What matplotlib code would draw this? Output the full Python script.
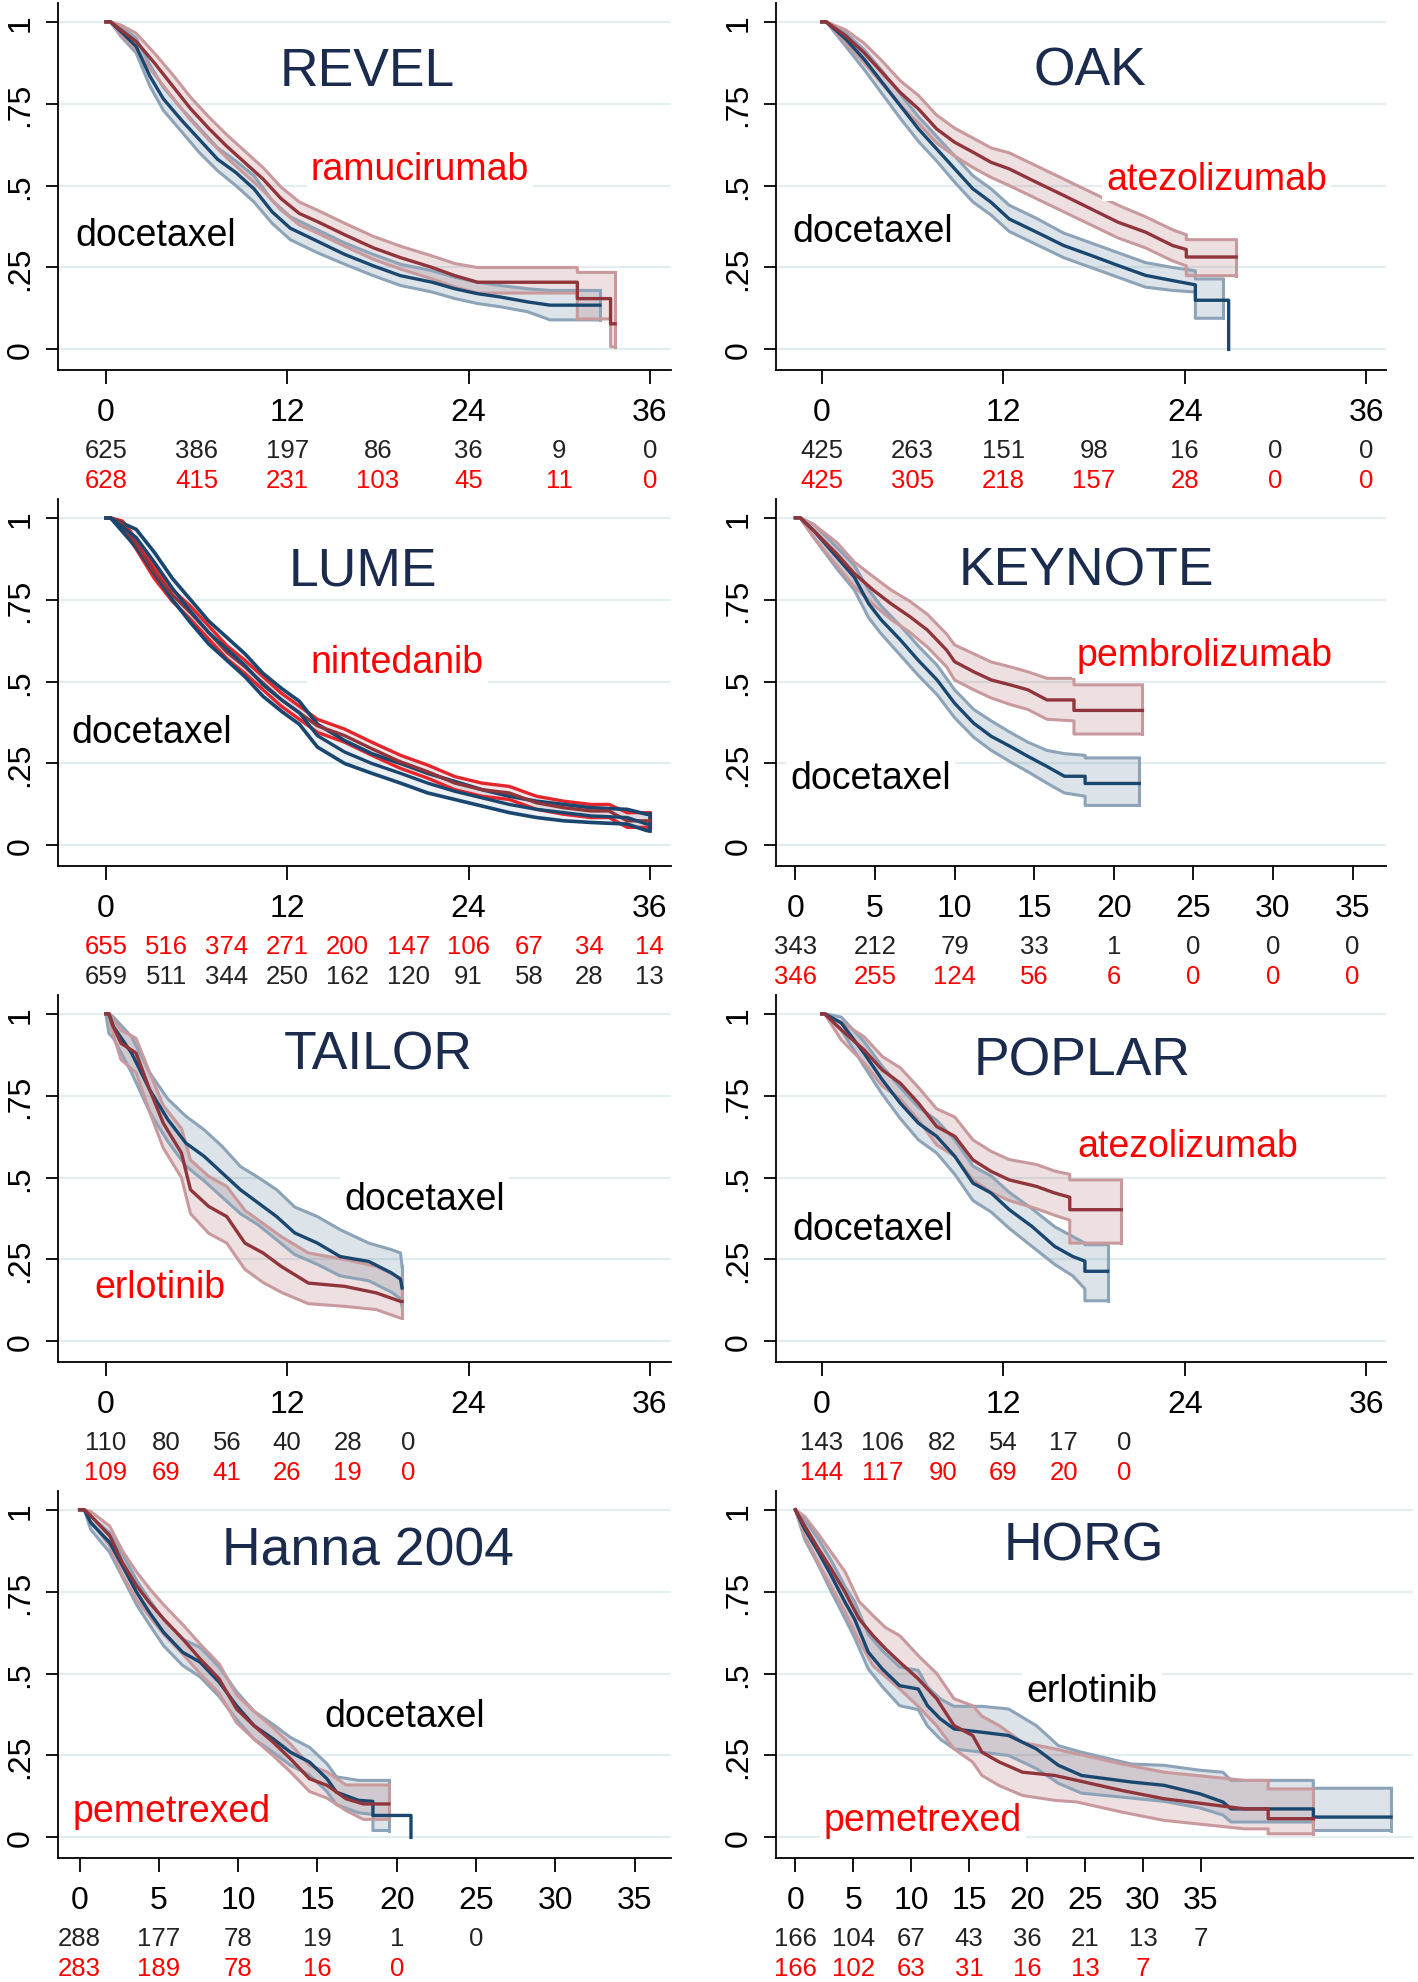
import numpy as np
import matplotlib
matplotlib.use('Agg')
import matplotlib.pyplot as plt

plt.rcParams['font.family'] = ['Liberation Sans', 'DejaVu Sans']

# ---------------- data ----------------
# each arm: time points along the curve, survival, lower and upper CI
# (None = no CI at that time)

# REVEL
rev_doc_t = [0, 0.3, 1, 2, 2.9, 3.8, 5.0, 6.2, 7.4, 8.6, 9.8, 11.0, 12.2, 14.0, 15.8, 17.7, 19.5, 21.6, 23.1, 24.6, 26.1, 27.9, 29.4, 32.7]
rev_doc_s = [1, 1, 0.97, 0.925, 0.835, 0.765, 0.70, 0.64, 0.58, 0.54, 0.49, 0.42, 0.37, 0.33, 0.29, 0.255, 0.225, 0.205, 0.185, 0.17, 0.16, 0.145, 0.135, 0.135]
rev_doc_lo = [1, 1, 0.955, 0.905, 0.805, 0.73, 0.665, 0.60, 0.545, 0.50, 0.45, 0.385, 0.335, 0.295, 0.26, 0.225, 0.195, 0.175, 0.155, 0.14, 0.13, 0.115, 0.09, 0.09]
rev_doc_hi = [1, 1, 0.985, 0.95, 0.87, 0.80, 0.735, 0.675, 0.615, 0.575, 0.53, 0.455, 0.405, 0.365, 0.325, 0.29, 0.26, 0.24, 0.22, 0.205, 0.195, 0.185, 0.18, 0.18]
rev_ram_t = [0, 0.3, 1, 2, 3.2, 4.4, 5.6, 6.8, 8.0, 9.2, 10.4, 11.6, 12.8, 14.0, 15.8, 17.7, 19.5, 21.6, 23.1, 24.6, 31.2, 31.2, 33.4, 33.4, 33.7]
rev_ram_s = [1, 1, 0.975, 0.94, 0.875, 0.805, 0.735, 0.675, 0.62, 0.57, 0.52, 0.46, 0.415, 0.39, 0.35, 0.31, 0.28, 0.25, 0.225, 0.205, 0.205, 0.155, 0.155, 0.078, 0.078]
rev_ram_lo = [1, 1, 0.96, 0.915, 0.84, 0.77, 0.70, 0.64, 0.585, 0.535, 0.485, 0.425, 0.38, 0.355, 0.315, 0.275, 0.245, 0.215, 0.19, 0.172, 0.172, 0.093, 0.093, 0.008, 0.008]
rev_ram_hi = [1, 1, 0.99, 0.965, 0.905, 0.84, 0.77, 0.71, 0.655, 0.605, 0.555, 0.495, 0.45, 0.425, 0.385, 0.345, 0.315, 0.285, 0.262, 0.25, 0.25, 0.235, 0.235, 0.235, 0.235]
rev_risk_x = [0, 6, 12, 18, 24, 30, 36]
rev_risk_doc = [625, 386, 197, 86, 36, 9, 0]
rev_risk_ram = [628, 415, 231, 103, 45, 11, 0]

# OAK
oak_doc_t = [0, 0.3, 1.6, 2.8, 4.0, 5.2, 6.4, 7.6, 8.8, 10.0, 11.2, 12.4, 14.2, 16.0, 17.8, 19.6, 21.4, 23.2, 24.7, 24.7, 26.5, 26.9, 26.9]
oak_doc_s = [1, 1, 0.947, 0.886, 0.815, 0.744, 0.673, 0.612, 0.551, 0.49, 0.449, 0.398, 0.358, 0.317, 0.287, 0.256, 0.226, 0.21, 0.197, 0.15, 0.15, 0.15, 0.0]
oak_doc_lo = [1, 1, 0.925, 0.855, 0.78, 0.705, 0.635, 0.575, 0.51, 0.45, 0.41, 0.36, 0.32, 0.28, 0.25, 0.22, 0.19, 0.18, 0.175, 0.095, 0.095, None, None]
oak_doc_hi = [1, 1, 0.965, 0.915, 0.85, 0.78, 0.71, 0.65, 0.59, 0.53, 0.49, 0.44, 0.40, 0.355, 0.325, 0.295, 0.265, 0.25, 0.24, 0.215, 0.215, None, None]
oak_ate_t = [0, 0.3, 1.6, 2.8, 4.0, 5.2, 6.4, 7.6, 8.8, 10.0, 11.2, 12.4, 14.2, 16.0, 17.8, 19.6, 21.4, 23.2, 24.1, 24.1, 27.4]
oak_ate_s = [1, 1, 0.957, 0.906, 0.845, 0.784, 0.734, 0.673, 0.632, 0.602, 0.571, 0.551, 0.51, 0.47, 0.429, 0.388, 0.358, 0.317, 0.305, 0.282, 0.282]
oak_ate_lo = [1, 1, 0.935, 0.875, 0.81, 0.745, 0.69, 0.63, 0.59, 0.555, 0.525, 0.50, 0.46, 0.42, 0.38, 0.34, 0.31, 0.27, 0.255, 0.225, 0.225]
oak_ate_hi = [1, 1, 0.975, 0.935, 0.88, 0.82, 0.775, 0.715, 0.675, 0.645, 0.615, 0.60, 0.56, 0.52, 0.48, 0.44, 0.405, 0.365, 0.35, 0.335, 0.335]
oak_risk_x = [0, 6, 12, 18, 24, 30, 36]
oak_risk_doc = [425, 263, 151, 98, 16, 0, 0]
oak_risk_ate = [425, 305, 218, 157, 28, 0, 0]

# LUME
lum_nin_t = [0, 0.3, 1.1, 2.0, 3.2, 4.4, 5.6, 6.8, 8.0, 9.2, 10.4, 11.6, 12.8, 14.0, 15.8, 17.6, 19.5, 21.3, 23.1, 24.9, 26.7, 28.5, 30.3, 32.1, 33.3, 34.5, 36.0]
lum_nin_s = [1, 1, 0.98, 0.92, 0.835, 0.765, 0.71, 0.65, 0.59, 0.545, 0.495, 0.445, 0.405, 0.365, 0.335, 0.295, 0.255, 0.225, 0.19, 0.17, 0.16, 0.13, 0.115, 0.105, 0.105, 0.075, 0.075]
lum_nin_lo = [1, 1, 0.97, 0.905, 0.815, 0.745, 0.69, 0.63, 0.57, 0.525, 0.475, 0.425, 0.385, 0.345, 0.315, 0.275, 0.235, 0.205, 0.17, 0.15, 0.14, 0.11, 0.095, 0.085, 0.085, 0.055, 0.055]
lum_nin_hi = [1, 1, 0.99, 0.935, 0.85, 0.78, 0.73, 0.67, 0.61, 0.565, 0.515, 0.465, 0.425, 0.385, 0.355, 0.315, 0.275, 0.245, 0.21, 0.19, 0.18, 0.15, 0.135, 0.125, 0.125, 0.10, 0.10]
lum_doc_t = [0, 0.3, 2.0, 3.2, 4.4, 5.6, 6.8, 8.0, 9.2, 10.4, 11.6, 12.8, 14.0, 15.8, 17.6, 19.5, 21.3, 23.1, 24.9, 26.7, 28.5, 30.3, 32.1, 34.5, 35.8, 36.0]
lum_doc_s = [1, 1, 0.94, 0.865, 0.785, 0.715, 0.65, 0.60, 0.55, 0.49, 0.445, 0.405, 0.335, 0.285, 0.25, 0.22, 0.19, 0.165, 0.145, 0.125, 0.11, 0.10, 0.09, 0.085, 0.065, 0.065]
lum_doc_lo = [1, 1, 0.91, 0.83, 0.75, 0.68, 0.615, 0.565, 0.515, 0.455, 0.41, 0.37, 0.30, 0.25, 0.22, 0.19, 0.16, 0.14, 0.12, 0.10, 0.085, 0.075, 0.07, 0.065, 0.045, 0.045]
lum_doc_hi = [1, 1, 0.965, 0.895, 0.815, 0.75, 0.685, 0.635, 0.585, 0.525, 0.48, 0.44, 0.37, 0.32, 0.28, 0.25, 0.22, 0.195, 0.17, 0.15, 0.135, 0.125, 0.115, 0.11, 0.095, 0.095]
lum_risk_x = [0, 4, 8, 12, 16, 20, 24, 28, 32, 36]
lum_risk_nin = [655, 516, 374, 271, 200, 147, 106, 67, 34, 14]
lum_risk_doc = [659, 511, 344, 250, 162, 120, 91, 58, 28, 13]

# KEYNOTE
key_doc_t = [0, 0.3, 1.15, 2.6, 3.7, 4.6, 5.4, 6.6, 7.7, 8.9, 10.0, 11.2, 12.3, 13.5, 14.6, 15.8, 16.9, 18.2, 18.2, 21.6]
key_doc_s = [1, 1, 0.961, 0.88, 0.819, 0.738, 0.688, 0.627, 0.566, 0.505, 0.434, 0.373, 0.333, 0.302, 0.272, 0.241, 0.211, 0.211, 0.189, 0.189]
key_doc_lo = [1, 1, 0.94, 0.845, 0.78, 0.695, 0.645, 0.58, 0.52, 0.46, 0.39, 0.33, 0.29, 0.255, 0.225, 0.19, 0.16, 0.15, 0.122, 0.122]
key_doc_hi = [1, 1, 0.98, 0.91, 0.855, 0.78, 0.73, 0.67, 0.61, 0.55, 0.475, 0.415, 0.38, 0.345, 0.315, 0.29, 0.28, 0.275, 0.267, 0.267]
key_pem_t = [0, 0.3, 1.15, 2.6, 3.7, 4.9, 6.0, 7.2, 8.3, 9.5, 10.0, 11.2, 12.3, 13.5, 14.6, 15.8, 17.5, 17.5, 21.8]
key_pem_s = [1, 1, 0.961, 0.89, 0.83, 0.779, 0.738, 0.698, 0.657, 0.596, 0.561, 0.53, 0.505, 0.49, 0.475, 0.444, 0.444, 0.412, 0.412]
key_pem_lo = [1, 1, 0.94, 0.855, 0.79, 0.735, 0.69, 0.65, 0.605, 0.545, 0.505, 0.475, 0.45, 0.43, 0.415, 0.385, 0.38, 0.34, 0.34]
key_pem_hi = [1, 1, 0.98, 0.925, 0.865, 0.82, 0.78, 0.745, 0.705, 0.645, 0.612, 0.585, 0.56, 0.545, 0.53, 0.51, 0.51, 0.49, 0.49]
key_risk_x = [0, 5, 10, 15, 20, 25, 30, 35]
key_risk_doc = [343, 212, 79, 33, 1, 0, 0, 0]
key_risk_pem = [346, 255, 124, 56, 6, 0, 0, 0]

# TAILOR
tai_doc_t = [0, 0.2, 0.5, 1.7, 2.9, 4.1, 5.3, 6.5, 7.7, 8.9, 10.1, 11.3, 12.5, 14.0, 15.5, 17.4, 18.9, 19.5, 19.6]
tai_doc_s = [1, 1, 0.961, 0.88, 0.768, 0.677, 0.605, 0.565, 0.514, 0.463, 0.422, 0.381, 0.331, 0.30, 0.259, 0.244, 0.209, 0.19, 0.163]
tai_doc_lo = [1, 0.94, 0.925, 0.82, 0.70, 0.61, 0.535, 0.49, 0.44, 0.39, 0.355, 0.31, 0.265, 0.235, 0.20, 0.185, 0.15, 0.13, 0.105]
tai_doc_hi = [1, 1, 0.99, 0.93, 0.82, 0.74, 0.687, 0.646, 0.595, 0.534, 0.50, 0.463, 0.41, 0.381, 0.341, 0.30, 0.28, 0.27, 0.229]
tai_erl_t = [0, 0.2, 0.4, 1.0, 2.0, 2.9, 3.8, 5.0, 5.6, 6.8, 8.0, 9.2, 10.4, 11.6, 13.4, 15.8, 17.9, 19.5, 19.6]
tai_erl_s = [1, 1, 0.97, 0.91, 0.88, 0.768, 0.666, 0.575, 0.463, 0.412, 0.381, 0.30, 0.27, 0.229, 0.178, 0.168, 0.148, 0.122, 0.122]
tai_erl_lo = [1, 1, 0.95, 0.86, 0.82, 0.70, 0.59, 0.50, 0.39, 0.33, 0.30, 0.22, 0.18, 0.15, 0.115, 0.107, 0.097, 0.071, 0.071]
tai_erl_hi = [1, 1, 0.99, 0.95, 0.925, 0.82, 0.72, 0.65, 0.554, 0.504, 0.473, 0.40, 0.36, 0.32, 0.27, 0.25, 0.229, 0.193, 0.193]
tai_risk_x = [0, 4, 8, 12, 16, 20]
tai_risk_doc = [110, 80, 56, 40, 28, 0]
tai_risk_erl = [109, 69, 41, 26, 19, 0]

# POPLAR
pop_doc_t = [0, 0.2, 1.3, 2.8, 4.0, 5.2, 6.4, 7.6, 8.8, 10.0, 11.2, 12.4, 13.9, 15.4, 16.6, 17.4, 17.4, 18.9]
pop_doc_s = [1, 1, 0.972, 0.88, 0.799, 0.727, 0.666, 0.626, 0.565, 0.483, 0.453, 0.402, 0.351, 0.29, 0.259, 0.245, 0.214, 0.214]
pop_doc_lo = [1, 1, 0.95, 0.84, 0.755, 0.68, 0.615, 0.575, 0.51, 0.43, 0.395, 0.345, 0.29, 0.235, 0.20, 0.16, 0.124, 0.124]
pop_doc_hi = [1, 1, 0.99, 0.915, 0.84, 0.775, 0.715, 0.675, 0.615, 0.535, 0.505, 0.455, 0.405, 0.35, 0.32, 0.30, 0.295, 0.295]
pop_ate_t = [0, 0.2, 1.3, 2.8, 4.0, 5.2, 6.4, 7.6, 8.8, 10.0, 11.2, 12.4, 14.2, 15.4, 16.4, 16.4, 19.8]
pop_ate_s = [1, 1, 0.951, 0.89, 0.829, 0.788, 0.727, 0.656, 0.626, 0.554, 0.519, 0.493, 0.473, 0.453, 0.44, 0.402, 0.402]
pop_ate_lo = [1, 1, 0.92, 0.85, 0.78, 0.74, 0.675, 0.60, 0.565, 0.493, 0.455, 0.43, 0.405, 0.385, 0.37, 0.30, 0.30]
pop_ate_hi = [1, 1, 0.975, 0.93, 0.87, 0.835, 0.775, 0.71, 0.685, 0.615, 0.58, 0.555, 0.54, 0.52, 0.51, 0.493, 0.493]
pop_risk_x = [0, 4, 8, 12, 16, 20]
pop_risk_doc = [143, 106, 82, 54, 17, 0]
pop_risk_ate = [144, 117, 90, 69, 20, 0]

# Hanna 2004
han_doc_t = [0, 0.3, 0.7, 1.9, 2.7, 3.6, 4.4, 5.3, 6.5, 7.6, 8.8, 9.9, 11.0, 12.2, 13.3, 14.5, 15.6, 16.2, 17.6, 18.5, 18.5, 19.5, 20.9, 20.9]
han_doc_s = [1, 1, 0.961, 0.90, 0.829, 0.748, 0.687, 0.626, 0.565, 0.535, 0.474, 0.402, 0.341, 0.301, 0.26, 0.23, 0.179, 0.138, 0.113, 0.11, 0.067, 0.067, 0.067, 0.0]
han_doc_lo = [1, 1, 0.94, 0.87, 0.795, 0.71, 0.65, 0.585, 0.525, 0.49, 0.43, 0.36, 0.30, 0.26, 0.22, 0.19, 0.14, 0.10, 0.075, 0.07, 0.021, 0.021, None, None]
han_doc_hi = [1, 1, 0.98, 0.93, 0.865, 0.785, 0.725, 0.665, 0.605, 0.58, 0.52, 0.445, 0.385, 0.345, 0.305, 0.275, 0.225, 0.185, 0.174, 0.174, 0.174, 0.174, None, None]
han_pem_t = [0, 0.3, 0.7, 1.9, 2.7, 3.6, 4.4, 5.3, 6.5, 7.6, 8.8, 9.9, 11.0, 12.2, 13.3, 14.5, 15.6, 16.8, 17.9, 19.5]
han_pem_s = [1, 1, 0.982, 0.921, 0.839, 0.768, 0.717, 0.667, 0.606, 0.545, 0.484, 0.392, 0.341, 0.291, 0.24, 0.179, 0.159, 0.118, 0.102, 0.102]
han_pem_lo = [1, 1, 0.965, 0.89, 0.80, 0.725, 0.675, 0.62, 0.56, 0.50, 0.44, 0.35, 0.30, 0.25, 0.20, 0.14, 0.12, 0.082, 0.055, 0.055]
han_pem_hi = [1, 1, 0.995, 0.95, 0.875, 0.81, 0.76, 0.71, 0.65, 0.59, 0.53, 0.435, 0.385, 0.335, 0.285, 0.22, 0.20, 0.16, 0.16, 0.16]
han_risk_x = [0, 5, 10, 15, 20, 25]
han_risk_doc = [288, 177, 78, 19, 1, 0]
han_risk_pem = [283, 189, 78, 16, 0]

# HORG
hor_erl_t = [0, 0.8, 2.0, 3.1, 4.3, 5.1, 6.3, 7.5, 9.0, 10.6, 11.4, 12.5, 13.7, 16.1, 18.4, 20.8, 22.7, 24.7, 29.0, 31.8, 34.9, 36.9, 37.6, 44.7, 44.7, 51.4]
hor_erl_s = [1, 0.941, 0.87, 0.799, 0.717, 0.667, 0.565, 0.514, 0.463, 0.453, 0.402, 0.362, 0.331, 0.321, 0.311, 0.27, 0.22, 0.189, 0.169, 0.159, 0.133, 0.108, 0.087, 0.087, 0.062, 0.062]
hor_erl_lo = [1, 0.91, 0.83, 0.75, 0.667, 0.61, 0.514, 0.46, 0.402, 0.39, 0.34, 0.30, 0.27, 0.26, 0.25, 0.21, 0.165, 0.135, 0.12, 0.11, 0.09, 0.068, 0.047, 0.047, 0.021, 0.021]
hor_erl_hi = [1, 0.97, 0.91, 0.845, 0.765, 0.72, 0.62, 0.57, 0.52, 0.51, 0.46, 0.423, 0.40, 0.40, 0.392, 0.341, 0.28, 0.26, 0.224, 0.22, 0.205, 0.199, 0.174, 0.174, 0.15, 0.15]
hor_pem_t = [0, 0.8, 2.0, 3.1, 4.3, 5.5, 6.7, 7.8, 9.0, 10.6, 12.2, 13.7, 15.3, 16.1, 17.6, 19.6, 22.4, 24.3, 28.2, 31.8, 38.8, 40.8, 40.8, 44.7]
hor_pem_s = [1, 0.951, 0.88, 0.819, 0.748, 0.667, 0.616, 0.575, 0.535, 0.484, 0.423, 0.341, 0.311, 0.26, 0.23, 0.199, 0.189, 0.174, 0.143, 0.118, 0.087, 0.087, 0.057, 0.057]
hor_pem_lo = [1, 0.92, 0.835, 0.765, 0.687, 0.60, 0.524, 0.49, 0.453, 0.40, 0.34, 0.27, 0.23, 0.189, 0.158, 0.128, 0.113, 0.108, 0.077, 0.052, 0.026, 0.026, 0.011, 0.011]
hor_pem_hi = [1, 0.98, 0.925, 0.87, 0.81, 0.72, 0.677, 0.64, 0.616, 0.555, 0.50, 0.423, 0.402, 0.37, 0.341, 0.29, 0.27, 0.255, 0.224, 0.199, 0.174, 0.174, 0.148, 0.148]
hor_risk_x = [0, 5, 10, 15, 20, 25, 30, 35]
hor_risk_erl = [166, 104, 67, 43, 36, 21, 13, 7]
hor_risk_pem = [166, 102, 63, 31, 16, 13, 7]

# ---------------- styling ----------------
NAVY = '#1a476f'
MAROON = '#90353b'
NAVY_CI = '#8ca3b8'
MAROON_CI = '#c99a9d'
BRIGHT = '#e3262b'
GRID = '#e4eef0'
TITLE = '#1b2b4d'
RED = '#ff0000'
BLACK = '#222222'

W, H = 1418, 1983
fig = plt.figure(figsize=(W / 100, H / 100), dpi=100)


def rect(x0, x1, row):
    top = 3.8 + 496 * row
    bot = 370.6 + 496 * row
    return [x0 / W, 1 - bot / H, (x1 - x0) / W, (bot - top) / H]


def arm(t, s, lo, hi, col, ci_col, fill_alpha=0.15, ci_lw=2.2):
    return dict(t=t, s=s, lo=lo, hi=hi, col=col, ci=ci_col, fa=fill_alpha, clw=ci_lw)


def ci_arrays(a):
    t = np.asarray(a['t'], float)
    lo = np.array([np.nan if v is None else v for v in a['lo']], float)
    hi = np.array([np.nan if v is None else v for v in a['hi']], float)
    ok = ~np.isnan(lo)
    return t[ok], lo[ok], hi[ok]


def panel(rct, xlim, xticks, title, title_xy, labels, arms, risk):
    ax = fig.add_axes(rct)
    ax.set_xlim(*xlim)
    ax.set_ylim(-0.0617, 1.058)
    for sp in ['top', 'right']:
        ax.spines[sp].set_visible(False)
    for sp in ['left', 'bottom']:
        ax.spines[sp].set_linewidth(1.3)
    ax.set_yticks([0, 0.25, 0.5, 0.75, 1])
    ax.set_yticklabels(['0', '.25', '.5', '.75', '1'], rotation=90, va='center')
    ax.set_xticks(xticks)
    ax.tick_params(axis='x', length=10, width=1.3, pad=10, labelsize=23)
    ax.tick_params(axis='y', length=9, width=1.3, pad=7, labelsize=23)
    ax.yaxis.grid(True, color=GRID, lw=1.6)
    ax.set_axisbelow(True)

    # bands first, then CI lines, then the estimates
    for a in arms:
        t, lo, hi = ci_arrays(a)
        ax.fill_between(t, lo, hi, color=a['col'], alpha=a['fa'], lw=0, zorder=2)
    for a in arms:
        t, lo, hi = ci_arrays(a)
        ax.plot(t, lo, color=a['ci'], lw=a['clw'], zorder=3)
        ax.plot(t, hi, color=a['ci'], lw=a['clw'], zorder=3)
        ax.plot([t[-1], t[-1]], [lo[-1], hi[-1]], color=a['ci'], lw=a['clw'], zorder=3)
    for a in arms:
        ax.plot(a['t'], a['s'], color=a['col'], lw=2.4, zorder=4)

    ax.text(title_xy[0], title_xy[1], title, color=TITLE, fontsize=38.5,
            ha='center', va='center', zorder=6,
            bbox=dict(facecolor='white', edgecolor='none', pad=2))
    for txt, x, y, c in labels:
        ax.text(x, y, txt, color=c, fontsize=27, ha='center', va='center', zorder=6,
                bbox=dict(facecolor='white', edgecolor='none', pad=3))

    trans = ax.get_xaxis_transform()
    for (xs, vals, c), yy in zip(risk, [-0.218, -0.300]):
        for x, v in zip(xs, vals):
            ax.text(x, yy, str(v), color=c, fontsize=18.5, ha='center', va='center',
                    transform=trans, clip_on=False)
    return ax


LX = (57.7, 671)
RX = (775.8, 1386)
t36 = [0, 12, 24, 36]
t35 = [0, 5, 10, 15, 20, 25, 30, 35]

panel(rect(*LX, 0), (-3.19, 37.4), t36, 'REVEL', (17.3, 0.85),
      [('ramucirumab', 20.8, 0.55, RED), ('docetaxel', 3.3, 0.35, 'black')],
      [arm(rev_doc_t, rev_doc_s, rev_doc_lo, rev_doc_hi, NAVY, NAVY_CI),
       arm(rev_ram_t, rev_ram_s, rev_ram_lo, rev_ram_hi, MAROON, MAROON_CI)],
      [(rev_risk_x, rev_risk_doc, BLACK), (rev_risk_x, rev_risk_ram, RED)])

panel(rect(*RX, 0), (-3.03, 37.3), t36, 'OAK', (17.7, 0.85),
      [('atezolizumab', 26.1, 0.52, RED), ('docetaxel', 3.4, 0.36, 'black')],
      [arm(oak_doc_t, oak_doc_s, oak_doc_lo, oak_doc_hi, NAVY, NAVY_CI),
       arm(oak_ate_t, oak_ate_s, oak_ate_lo, oak_ate_hi, MAROON, MAROON_CI)],
      [(oak_risk_x, oak_risk_doc, BLACK), (oak_risk_x, oak_risk_ate, RED)])

panel(rect(*LX, 1), (-3.19, 37.4), t36, 'LUME', (17.0, 0.84),
      [('nintedanib', 19.3, 0.56, RED), ('docetaxel', 3.0, 0.347, 'black')],
      [arm(lum_nin_t, lum_nin_s, lum_nin_lo, lum_nin_hi, MAROON, BRIGHT, 0.12, 2.4),
       arm(lum_doc_t, lum_doc_s, lum_doc_lo, lum_doc_hi, NAVY, NAVY, 0.08, 2.6)],
      [(lum_risk_x, lum_risk_nin, RED), (lum_risk_x, lum_risk_doc, BLACK)])

panel(rect(*RX, 1), (-1.23, 37.1), t35, 'KEYNOTE', (18.3, 0.84),
      [('pembrolizumab', 25.7, 0.58, RED), ('docetaxel', 4.7, 0.205, 'black')],
      [arm(key_doc_t, key_doc_s, key_doc_lo, key_doc_hi, NAVY, NAVY_CI),
       arm(key_pem_t, key_pem_s, key_pem_lo, key_pem_hi, MAROON, MAROON_CI)],
      [(key_risk_x, key_risk_doc, BLACK), (key_risk_x, key_risk_pem, RED)])

panel(rect(*LX, 2), (-3.19, 37.4), t36, 'TAILOR', (18.0, 0.876),
      [('docetaxel', 21.1, 0.436, 'black'), ('erlotinib', 3.6, 0.166, RED)],
      [arm(tai_doc_t, tai_doc_s, tai_doc_lo, tai_doc_hi, NAVY, NAVY_CI),
       arm(tai_erl_t, tai_erl_s, tai_erl_lo, tai_erl_hi, MAROON, MAROON_CI)],
      [(tai_risk_x, tai_risk_doc, BLACK), (tai_risk_x, tai_risk_erl, RED)])

panel(rect(*RX, 2), (-3.03, 37.3), t36, 'POPLAR', (17.2, 0.857),
      [('atezolizumab', 24.2, 0.595, RED), ('docetaxel', 3.4, 0.344, 'black')],
      [arm(pop_doc_t, pop_doc_s, pop_doc_lo, pop_doc_hi, NAVY, NAVY_CI),
       arm(pop_ate_t, pop_ate_s, pop_ate_lo, pop_ate_hi, MAROON, MAROON_CI)],
      [(pop_risk_x, pop_risk_doc, BLACK), (pop_risk_x, pop_risk_ate, RED)])

panel(rect(*LX, 3), (-1.38, 37.3), t35, 'Hanna 2004', (18.2, 0.876),
      [('docetaxel', 20.5, 0.371, 'black'), ('pemetrexed', 5.8, 0.081, RED)],
      [arm(han_doc_t, han_doc_s, han_doc_lo, han_doc_hi, NAVY, NAVY_CI),
       arm(han_pem_t, han_pem_s, han_pem_lo, han_pem_hi, MAROON, MAROON_CI)],
      [(han_risk_x, han_risk_doc, BLACK), (han_risk_x, han_risk_pem, RED)])

panel(rect(775.8, 1413, 3), (-1.69, 53.3), t35, 'HORG', (24.9, 0.892),
      [('erlotinib', 25.6, 0.448, 'black'), ('pemetrexed', 11.0, 0.054, RED)],
      [arm(hor_erl_t, hor_erl_s, hor_erl_lo, hor_erl_hi, NAVY, NAVY_CI),
       arm(hor_pem_t, hor_pem_s, hor_pem_lo, hor_pem_hi, MAROON, MAROON_CI)],
      [(hor_risk_x, hor_risk_erl, BLACK), (hor_risk_x, hor_risk_pem, RED)])

fig.savefig('out.png', dpi=100)
